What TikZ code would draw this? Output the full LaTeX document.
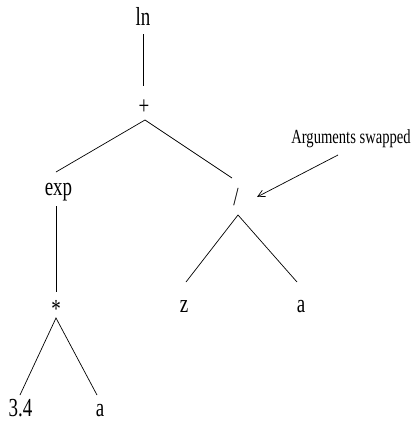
\documentclass[tikz,border=0pt]{standalone}
\usepackage{fontspec}
\usetikzlibrary{calc,arrows.meta}
\newfontfamily\treefont[FakeStretch=0.73]{Liberation Serif}
\begin{document}
\begin{tikzpicture}[x=1pt,y=-1pt,
  lbl/.style={anchor=base,inner sep=0pt,outer sep=0pt,font=\treefont\fontsize{26}{26}\selectfont},
  note/.style={anchor=base,inner sep=0pt,outer sep=0pt,font=\treefont\fontsize{20}{20}\selectfont},
  edge/.style={line width=0.7pt,black},
  pointer/.style={line width=0.7pt,black,-{Straight Barb[length=7pt,width=7pt]}}]
\useasboundingbox (0,0) rectangle (417,423);
\node[lbl] (ln) at (143,25) {ln};
\node[lbl] (plus) at (144,114) {+};
\node[lbl] (exp) at (58.5,195) {exp};
\node[lbl] (slash) at (236,205) {/};
\node[lbl] (star) at (56,317) {*};
\node[lbl] (z) at (184,312) {z};
\node[lbl] (a2) at (301,312) {a};
\node[lbl] (n34) at (20.5,416) {3.4};
\node[lbl] (a1) at (100,416) {a};
\node[note] (note) at (351,143) {Arguments swapped};
\draw[edge] ($(ln.base)+(0,9)$) -- ($(plus.base)+(-1,-28)$);
\draw[edge] ($(exp.base)+(-2.5,-23)$) -- ($(plus.base)+(1,6)$) -- ($(slash.base)+(-4,-27)$);
\draw[edge] ($(exp.base)+(-2.5,11)$) -- ($(star.base)+(0,-25)$);
\draw[edge] ($(n34.base)+(-0.5,-21)$) -- ($(star.base)+(0,1)$) -- ($(a1.base)+(-3,-21)$);
\draw[edge] ($(z.base)+(2,-30)$) -- ($(slash.base)+(2,10)$) -- ($(a2.base)+(-4,-30)$);
\draw[pointer] ($(note.base)+(-13,12)$) -- ($(slash.base)+(21,-8)$);
\end{tikzpicture}
\end{document}
